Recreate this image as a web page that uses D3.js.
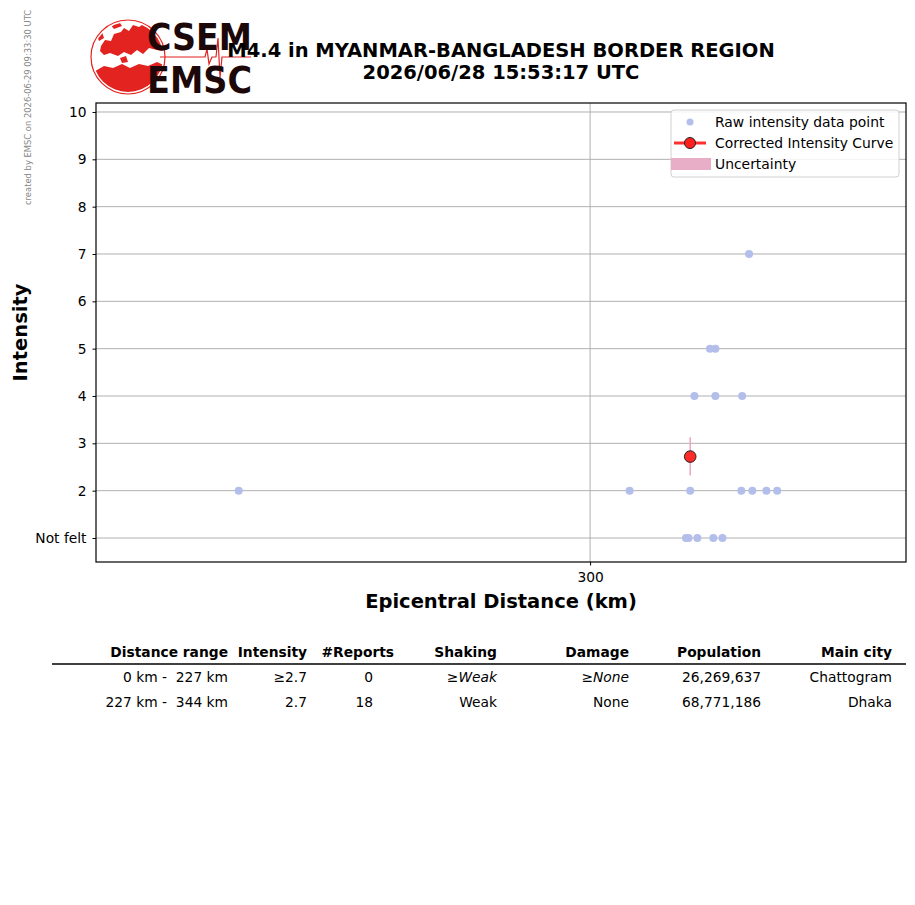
<!DOCTYPE html>
<html>
<head>
<meta charset="utf-8">
<script src="https://cdn.jsdelivr.net/npm/d3@7"></script>
<style>
  body { margin: 0; background: #fff; }
  svg text { font-family: "DejaVu Sans", sans-serif; }
</style>
</head>
<body>
<div id="chart"></div>
<script>
// raw reports, distance in km, grouped by intensity
var intensityLevels = [7, 5, 4, 2, 1]
var distancesByLevel = [
  [337.0],
  [327.5, 328.8],
  [323.8, 328.8, 335.3],
  [232.0, 308.8, 322.8, 335.1, 337.8, 341.3, 344.0],
  [321.8, 322.4, 324.5, 328.3, 330.5]
]
var correctedDist = [322.8]
var correctedInt = [2.72]
var uncertLow = [2.32]
var uncertHigh = [3.13]

var yTicks = [1, 2, 3, 4, 5, 6, 7, 8, 9, 10]
var xTicks = [300]

var tableHeader = ['Distance range', 'Intensity', '#Reports', 'Shaking', 'Damage', 'Population', 'Main city']
var tableRows = [
  ['0 km -  227 km', '≥2.7', '0', '≥Weak', '≥None', '26,269,637', 'Chattogram'],
  ['227 km -  344 km', '2.7', '18', 'Weak', 'None', '68,771,186', 'Dhaka']
]
var italicCells = [[false, false, false, true, true, false, false], [false, false, false, false, false, false, false]]

var W = 915, H = 905
var margin = {top: 103, right: 9, bottom: 343, left: 96}
var width = W - margin.left - margin.right,
  height = H - margin.top - margin.bottom

var svg = d3.select('#chart')
  .append('svg')
    .attr('width', W)
    .attr('height', H)

var x = d3.scaleLog().domain([209, 378]).range([0, width])
var y = d3.scaleLinear().domain([0.493, 10.19]).range([height, 0])

var g = svg.append('g')
  .attr('transform', 'translate(' + margin.left + ',' + margin.top + ')')

// grid
g.selectAll('line.hgrid')
  .data(yTicks)
  .enter().append('line')
    .attr('class', 'hgrid')
    .attr('x1', 0).attr('x2', width)
    .attr('y1', d => y(d)).attr('y2', d => y(d))
    .attr('stroke', '#b0b0b0')
    .attr('stroke-width', 1)
g.selectAll('line.vgrid')
  .data(xTicks)
  .enter().append('line')
    .attr('class', 'vgrid')
    .attr('x1', d => x(d)).attr('x2', d => x(d))
    .attr('y1', 0).attr('y2', height)
    .attr('stroke', '#b0b0b0')
    .attr('stroke-width', 1)

// axes
var yAxis = d3.axisLeft(y).tickValues(yTicks).tickSize(3.5).tickPadding(6)
  .tickFormat(d => d === 1 ? 'Not felt' : d)
var xAxis = d3.axisBottom(x).tickValues(xTicks).tickSize(3.5).tickPadding(7)
  .tickFormat(d3.format('d'))

var ya = g.append('g').call(yAxis)
var xa = g.append('g').attr('transform', 'translate(0,' + height + ')').call(xAxis)
;[ya, xa].forEach(a => {
  a.select('.domain').remove()
  a.selectAll('text').style('font-size', '13.8px').attr('fill', '#000')
  a.selectAll('line').attr('stroke', '#000')
})

// raw points
var raw = []
intensityLevels.forEach((lv, i) => distancesByLevel[i].forEach(dd => raw.push({d: dd, i: lv})))
g.selectAll('circle.raw')
  .data(raw)
  .enter().append('circle')
    .attr('class', 'raw')
    .attr('cx', d => x(d.d))
    .attr('cy', d => y(d.i))
    .attr('r', 4)
    .attr('fill', '#b3bfea')

// uncertainty + corrected point
g.selectAll('line.unc')
  .data(correctedDist)
  .enter().append('line')
    .attr('class', 'unc')
    .attr('x1', d => x(d)).attr('x2', d => x(d))
    .attr('y1', (d, i) => y(uncertLow[i])).attr('y2', (d, i) => y(uncertHigh[i]))
    .attr('stroke', '#eea6c0')
    .attr('stroke-width', 1.5)
g.selectAll('circle.corr')
  .data(correctedDist)
  .enter().append('circle')
    .attr('class', 'corr')
    .attr('cx', d => x(d))
    .attr('cy', (d, i) => y(correctedInt[i]))
    .attr('r', 5.8)
    .attr('fill', '#ff2a2a')
    .attr('stroke', '#222')
    .attr('stroke-width', 1)

// frame
g.append('rect')
  .attr('width', width).attr('height', height)
  .attr('fill', 'none').attr('stroke', '#000').attr('stroke-width', 1.2)

// legend
var lg = g.append('g').attr('transform', 'translate(' + (width - 235) + ',7)')
lg.append('rect')
  .attr('width', 228).attr('height', 67).attr('rx', 3)
  .attr('fill', 'rgba(255,255,255,0.85)').attr('stroke', '#d0d0d0')
lg.append('circle').attr('cx', 19).attr('cy', 12).attr('r', 3.5).attr('fill', '#b3bfea')
lg.append('line').attr('x1', 3).attr('x2', 35).attr('y1', 33).attr('y2', 33)
  .attr('stroke', '#ff3030').attr('stroke-width', 3)
lg.append('circle').attr('cx', 19).attr('cy', 33).attr('r', 5.5)
  .attr('fill', '#ff2020').attr('stroke', '#222').attr('stroke-width', 1)
lg.append('rect').attr('x', 0).attr('y', 48).attr('width', 40).attr('height', 12)
  .attr('fill', '#e8adc7')
lg.selectAll('text')
  .data(['Raw intensity data point', 'Corrected Intensity Curve', 'Uncertainty'])
  .enter().append('text')
    .attr('x', 44)
    .attr('y', (d, i) => 17 + i * 21)
    .style('font-size', '13.9px')
    .text(d => d)

// axis labels
svg.append('text')
  .attr('x', margin.left + width / 2).attr('y', 608)
  .attr('text-anchor', 'middle')
  .style('font-size', '19.5px').style('font-weight', 'bold')
  .text('Epicentral Distance (km)')
svg.append('text')
  .attr('transform', 'translate(27,' + (margin.top + height / 2) + ') rotate(-90)')
  .attr('text-anchor', 'middle')
  .style('font-size', '19.5px').style('font-weight', 'bold')
  .text('Intensity')

// side note
svg.append('text')
  .attr('transform', 'translate(31,205) rotate(-90)')
  .style('font-size', '8.4px').attr('fill', '#888')
  .text('created by EMSC on 2026-06-29 09:33:30 UTC')

// logo
var logo = svg.append('g')
var cx = 128, cy = 57, r = 37
svg.append('defs').append('clipPath').attr('id', 'globe')
  .append('circle').attr('cx', cx).attr('cy', cy).attr('r', r - 2)
var land = logo.append('g').attr('clip-path', 'url(#globe)').attr('fill', '#e2231f')
land.append('path').attr('d',
  'M101,46 L105,40 L111,41 L114,34 L121,32 L124,28 L129,31 L133,25 L139,27 L145,23 L154,27 L166,31 L166,52 ' +
  'L157,50 L149,48 L143,54 L137,50 L131,55 L124,52 L118,56 L110,53 L104,55 L100,51 Z')
land.append('path').attr('d',
  'M97,70 L104,66 L113,68 L122,64 L130,68 L139,64 L148,66 L157,62 L166,66 L166,100 L90,100 L90,74 Z')
land.append('path').attr('d', 'M97,36 L102,32 L104,38 L99,41 Z')
land.append('path').attr('d', 'M110,24 L118,20 L122,26 L114,29 Z')
land.append('path').attr('d', 'M120,58 L126,56 L128,62 L122,63 Z')
logo.append('circle').attr('cx', cx).attr('cy', cy).attr('r', r)
  .attr('fill', 'none').attr('stroke', '#e2231f').attr('stroke-width', 1.2)
logo.append('polyline')
  .attr('points', '160,57 205,57 207,49 209,64 212,57 216,57 218,38 220,78 222,57 251,57')
  .attr('fill', 'none').attr('stroke', '#e2231f').attr('stroke-width', 1.2)
logo.append('text').attr('x', 147).attr('y', 50)
  .attr('textLength', 105).attr('lengthAdjust', 'spacingAndGlyphs')
  .style('font-size', '37px').style('font-weight', 'bold').attr('fill', '#1c0808')
  .text('CSEM')
logo.append('text').attr('x', 147).attr('y', 93)
  .attr('textLength', 105).attr('lengthAdjust', 'spacingAndGlyphs')
  .style('font-size', '37px').style('font-weight', 'bold').attr('fill', '#1c0808')
  .text('EMSC')

// title
svg.append('text')
  .attr('x', margin.left + width / 2).attr('y', 57)
  .attr('text-anchor', 'middle')
  .style('font-size', '19.5px').style('font-weight', 'bold')
  .text('M4.4 in MYANMAR-BANGLADESH BORDER REGION')
svg.append('text')
  .attr('x', margin.left + width / 2).attr('y', 79)
  .attr('text-anchor', 'middle')
  .style('font-size', '19.5px').style('font-weight', 'bold')
  .text('2026/06/28 15:53:17 UTC')

// table
var colRight = [228, 307, 394, 497, 629, 761, 892]
var valRight = [228, 307, 373, 497, 629, 761, 892]
var tb = svg.append('g')
tb.selectAll('text.th')
  .data(tableHeader)
  .enter().append('text')
    .attr('class', 'th')
    .attr('x', (d, i) => colRight[i]).attr('y', 657)
    .attr('text-anchor', 'end')
    .style('font-size', '13.8px').style('font-weight', 'bold')
    .text(d => d)
tb.append('line')
  .attr('x1', 52).attr('x2', 906).attr('y1', 664).attr('y2', 664)
  .attr('stroke', '#000').attr('stroke-width', 1.3)
tableRows.forEach((row, ri) => {
  tb.selectAll('text.r' + ri)
    .data(row)
    .enter().append('text')
      .attr('class', 'r' + ri)
      .attr('x', (d, i) => valRight[i]).attr('y', 682 + ri * 25)
      .attr('text-anchor', 'end')
      .style('font-size', '13.8px')
      .style('white-space', 'pre')
      .style('font-style', (d, i) => italicCells[ri][i] ? 'italic' : 'normal')
      .text(d => d)
})
</script>
</body>
</html>
